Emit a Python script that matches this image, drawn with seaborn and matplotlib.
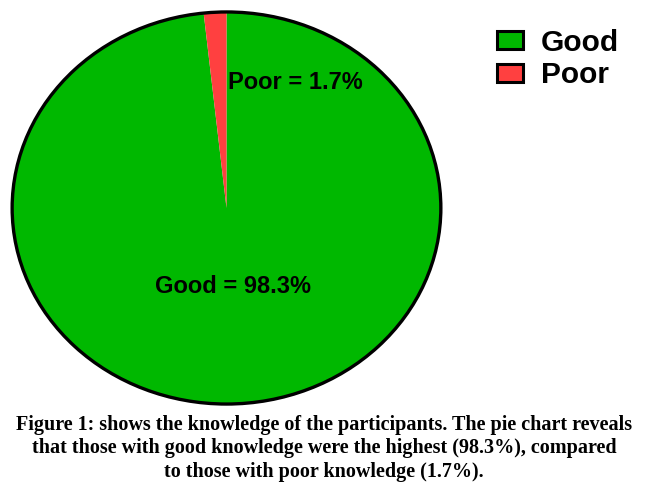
import numpy as np
import matplotlib
matplotlib.use("Agg")
import matplotlib.pyplot as plt
import matplotlib.patches as mpatches
import seaborn as sns

labels = ["Good", "Poor"]
values = [98.3, 1.7]
colors = ["#00b800", "#ff4040"]
caption = ("Figure 1: shows the knowledge of the participants. The pie chart reveals\n"
           "that those with good knowledge were the highest (98.3%), compared\n"
           "to those with poor knowledge (1.7%).")

sns.set_style("white")
plt.rcParams['font.family'] = ['Liberation Sans', 'DejaVu Sans']
plt.rcParams['text.color'] = 'black'

fig = plt.figure(figsize=(6.48, 4.99), dpi=100)
ax = fig.add_axes([10 / 648, 1 - 406 / 499, 433 / 648, 396 / 499])

ax.pie(values, colors=colors, startangle=90, counterclock=False,
       wedgeprops=dict(edgecolor="none"))
# black outline round the whole pie
ax.add_patch(mpatches.Circle((0, 0), 1, fill=False, edgecolor="black", lw=2.4))
ax.set_aspect("auto")
ax.set_xlim(-1.01, 1.01)
ax.set_ylim(-1.01, 1.01)
ax.axis("off")

ax.text(0.32, 0.64, f"{labels[1]} = {values[1]}%", ha="center", va="center",
        fontsize=17, fontweight="bold", color="black")
ax.text(0.03, -0.40, f"{labels[0]} = {values[0]}%", ha="center", va="center",
        fontsize=17, fontweight="bold", color="black")

handles = [mpatches.Patch(facecolor=c, edgecolor="black", lw=2.2) for c in colors]
fig.legend(handles, labels, loc="upper left", bbox_to_anchor=(497 / 648, 1 - 29 / 499),
           frameon=False, prop=dict(size=21.5, weight="bold"), borderaxespad=0, borderpad=0,
           handlelength=0.88, handleheight=0.55, labelspacing=0.14, handletextpad=0.6,
           labelcolor="black")

fig.text(0.5, 1 - 415 / 499, caption, ha="center", va="top", family="Liberation Serif",
         fontweight="bold", fontsize=14.5, linespacing=1.23, color="black")

fig.savefig("out.png", dpi=100)
